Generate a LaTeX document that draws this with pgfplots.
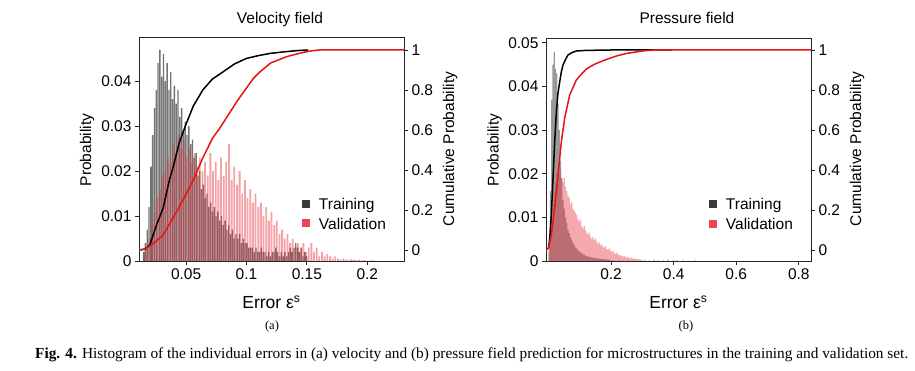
\documentclass[border=0pt]{standalone}
\usepackage{pgfplots}
\pgfplotsset{compat=1.18}
\usepackage{graphicx}
\usepackage{fontspec}
\setmainfont{Liberation Sans}
\newfontfamily\capfont{Liberation Serif}
\definecolor{valred}{RGB}{232,48,60}
\definecolor{cdfred}{RGB}{232,20,20}
\definecolor{legtrain}{RGB}{58,58,58}
\definecolor{legval}{RGB}{232,70,80}
\newcommand{\fs}{\fontsize{15.5}{18}\selectfont}
\pgfplotsset{
  base/.style={
    scale only axis, width=265pt, height=224pt, anchor=south west,
    scaled ticks=false,
    tick align=outside, major tick length=4pt,
    axis line style={line width=0.8pt, black!85},
    every tick/.style={line width=0.8pt, black!85},
    tick label style={font=\fs},
  },
  leg/.style={
    legend style={draw=none, fill=none, at={(0.94,0.125)}, anchor=south east,
      font=\fs, row sep=3pt, inner sep=0pt},
    legend cell align=left,
    legend image code/.code={\fill[##1] (0pt,-3pt) rectangle (8pt,5pt); \path (15pt,0pt);},
  },
  trainbar/.style={ybar, bar shift=0pt, fill=black, fill opacity=0.55, draw=none, forget plot},
  valbar/.style={ybar, bar shift=0pt, fill=valred, fill opacity=0.45, draw=none, forget plot},
}
\begin{document}
\begin{tikzpicture}
\useasboundingbox (0,0) rectangle (915pt,371pt);
% ---------------- (a) velocity ----------------
\begin{axis}[base, leg, at={(139pt,110pt)},
  xmin=0.011, xmax=0.2304, ymin=0, ymax=0.0498,
  xtick={0.05,0.1,0.15,0.2}, xticklabels={0.05,0.1,0.15,0.2},
  ytick={0,0.01,0.02,0.03,0.04}, yticklabels={0,0.01,0.02,0.03,0.04},
  xtick pos=left, ytick pos=left]
\addplot[trainbar, bar width=0.0011] coordinates {
(0.0148,0.002)(0.0163,0.004)(0.0178,0.007)(0.0193,0.012)(0.0208,0.021)(0.0223,0.028)(0.0238,0.034)(0.0253,0.038)(0.0268,0.044)(0.0283,0.047)(0.0298,0.041)(0.0313,0.046)(0.0328,0.040)(0.0343,0.044)(0.0358,0.038)(0.0373,0.042)(0.0388,0.036)(0.0403,0.039)(0.0418,0.035)(0.0433,0.038)(0.0448,0.032)(0.0463,0.034)(0.0478,0.029)(0.0493,0.031)(0.0508,0.028)(0.0523,0.030)(0.0538,0.026)(0.0553,0.027)(0.0568,0.023)(0.0583,0.024)(0.0598,0.019)(0.0613,0.020)(0.0628,0.016)(0.0643,0.017)(0.0658,0.014)(0.0673,0.015)(0.0688,0.012)(0.0703,0.013)(0.0718,0.011)(0.0733,0.012)(0.0748,0.010)(0.0763,0.011)(0.0778,0.009)(0.0793,0.010)(0.0808,0.008)(0.0823,0.009)(0.0838,0.007)(0.0853,0.008)(0.0868,0.006)(0.0883,0.007)(0.0898,0.005)(0.0913,0.006)(0.0928,0.005)(0.0943,0.006)(0.0958,0.004)(0.0973,0.005)(0.0988,0.004)(0.1003,0.004)(0.1018,0.003)(0.1033,0.003)(0.1048,0.003)(0.1063,0.002)(0.1078,0.003)(0.1093,0.002)(0.1108,0.002)(0.1123,0.003)(0.1138,0.002)(0.1153,0.002)(0.1168,0.001)(0.1183,0.002)(0.1198,0.001)(0.1213,0.002)(0.1228,0.002)(0.1243,0.003)(0.1258,0.002)(0.1273,0.001)(0.1288,0.002)(0.1303,0.001)(0.1318,0.002)(0.1333,0.001)(0.1348,0.002)(0.1363,0.003)(0.1378,0.002)(0.1393,0.003)(0.1408,0.004)(0.1423,0.003)(0.1438,0.002)(0.1453,0.003)(0.1468,0.001)(0.1483,0.002)(0.1498,0.001)};
\addplot[valbar, bar width=0.0015] coordinates {
(0.0151,0.001)(0.0173,0.003)(0.0195,0.005)(0.0217,0.008)(0.0239,0.011)(0.0261,0.014)(0.0283,0.016)(0.0305,0.019)(0.0327,0.020)(0.0349,0.023)(0.0371,0.022)(0.0393,0.026)(0.0415,0.024)(0.0437,0.028)(0.0459,0.025)(0.0481,0.027)(0.0503,0.023)(0.0525,0.025)(0.0547,0.022)(0.0569,0.024)(0.0591,0.021)(0.0613,0.023)(0.0635,0.020)(0.0657,0.022)(0.0679,0.019)(0.0701,0.024)(0.0723,0.020)(0.0745,0.022)(0.0767,0.018)(0.0789,0.023)(0.0811,0.019)(0.0833,0.022)(0.0855,0.026)(0.0877,0.018)(0.0899,0.021)(0.0921,0.017)(0.0943,0.020)(0.0965,0.015)(0.0987,0.018)(0.1009,0.014)(0.1031,0.016)(0.1053,0.013)(0.1075,0.015)(0.1097,0.012)(0.1119,0.013)(0.1141,0.010)(0.1163,0.012)(0.1185,0.009)(0.1207,0.011)(0.1229,0.008)(0.1251,0.009)(0.1273,0.006)(0.1295,0.007)(0.1317,0.005)(0.1339,0.006)(0.1361,0.004)(0.1383,0.005)(0.1405,0.003)(0.1427,0.004)(0.1449,0.003)(0.1471,0.004)(0.1493,0.002)(0.1515,0.003)(0.1537,0.004)(0.1559,0.002)(0.1581,0.003)(0.1603,0.001)(0.1625,0.002)(0.1647,0.001)(0.1669,0.0015)(0.1691,0.001)(0.1713,0.0005)(0.1735,0.001)(0.1757,0.0005)(0.1779,0.0003)(0.1801,0.0005)(0.1823,0.0003)(0.1845,0.0002)(0.1867,0.0004)(0.1889,0.0003)(0.1911,0.0002)(0.1933,0.0003)(0.1955,0.0001)(0.1977,0.0002)(0.1999,0.0001)(0.2021,0.0001)(0.2043,0.0002)(0.2065,0.0001)(0.2153,0.0001)(0.2219,0.0001)};
\addlegendimage{fill=legtrain, draw=none}\addlegendentry{Training}
\addlegendimage{fill=legval, draw=none}\addlegendentry{Validation}
\end{axis}
\begin{axis}[base, at={(139pt,110pt)},
  xmin=0.011, xmax=0.2304, ymin=-0.055, ymax=1.065,
  axis y line*=right, axis x line=none,
  ytick={0,0.2,0.4,0.6,0.8,1}, yticklabels={0,0.2,0.4,0.6,0.8,1}]
\addplot[black, line width=1.5pt] coordinates {
(0.012,0.0)(0.016,0.005)(0.02,0.025)(0.0252,0.12)(0.031,0.21)(0.0362,0.35)(0.0395,0.42)(0.0445,0.54)(0.05,0.63)(0.056,0.72)(0.0638,0.80)(0.0718,0.855)(0.078,0.88)(0.09,0.93)(0.1,0.958)(0.11,0.972)(0.1195,0.983)(0.13,0.99)(0.1417,0.997)(0.151,1.0)};
\addplot[cdfred, line width=1.5pt] coordinates {
(0.011,0.0)(0.016,0.005)(0.0224,0.03)(0.031,0.075)(0.0362,0.13)(0.042,0.19)(0.05,0.28)(0.056,0.35)(0.0638,0.46)(0.072,0.56)(0.078,0.61)(0.0831,0.658)(0.092,0.742)(0.1,0.81)(0.1057,0.858)(0.111,0.89)(0.12,0.935)(0.1334,0.967)(0.145,0.985)(0.1527,0.995)(0.16,1.0)(0.2304,1.0)};
\end{axis}
% ---------------- (b) pressure ----------------
\begin{axis}[base, leg, at={(546pt,110pt)}, height=223pt,
  xmin=-0.008, xmax=0.839, ymin=0, ymax=0.0511,
  xtick={0.2,0.4,0.6,0.8}, xticklabels={0.2,0.4,0.6,0.8},
  ytick={0,0.01,0.02,0.03,0.04,0.05}, yticklabels={0,0.01,0.02,0.03,0.04,0.05},
  xtick pos=left, ytick pos=left]
\addplot[trainbar, fill opacity=0.4, bar width=0.004] coordinates {
(0.002,0.004)(0.006,0.016)(0.010,0.037)(0.014,0.045)(0.018,0.048)(0.022,0.044)(0.026,0.043)(0.030,0.036)(0.034,0.030)(0.038,0.023)(0.042,0.019)(0.046,0.014)(0.050,0.012)(0.054,0.010)(0.058,0.0088)(0.062,0.0072)(0.066,0.0064)(0.070,0.0055)(0.074,0.0049)(0.078,0.0041)(0.082,0.0037)(0.086,0.0031)(0.090,0.0029)(0.094,0.0024)(0.098,0.0023)(0.102,0.0019)(0.106,0.0018)(0.110,0.0015)(0.114,0.0015)(0.118,0.0012)(0.122,0.0012)(0.126,0.0010)(0.130,0.0010)(0.134,0.0009)(0.138,0.0008)(0.142,0.0008)(0.146,0.0007)(0.150,0.0007)(0.154,0.0006)(0.158,0.0006)(0.162,0.0005)(0.166,0.0005)(0.170,0.0004)(0.174,0.0004)(0.178,0.0004)(0.182,0.0003)(0.186,0.0003)(0.190,0.0003)(0.194,0.0002)(0.198,0.0002)(0.206,0.0002)(0.214,0.0001)(0.226,0.0002)(0.238,0.0001)(0.254,0.0001)(0.274,0.0001)(0.302,0.0001)(0.338,0.0001)(0.382,0.0001)};
\addplot[valbar, fill opacity=0.42, bar width=0.004] coordinates {
(0.002,0.002)(0.006,0.005)(0.010,0.009)(0.014,0.013)(0.018,0.016)(0.022,0.018)(0.026,0.020)(0.030,0.021)(0.034,0.020)(0.038,0.021)(0.042,0.019)(0.046,0.018)(0.050,0.019)(0.054,0.017)(0.058,0.016)(0.062,0.015)(0.066,0.0145)(0.070,0.013)(0.074,0.0135)(0.078,0.012)(0.082,0.0115)(0.086,0.011)(0.090,0.0105)(0.094,0.0095)(0.098,0.009)(0.102,0.0095)(0.106,0.008)(0.110,0.0075)(0.114,0.008)(0.118,0.007)(0.122,0.0065)(0.126,0.006)(0.130,0.0065)(0.134,0.0055)(0.138,0.005)(0.142,0.0055)(0.146,0.0048)(0.150,0.0052)(0.154,0.0045)(0.158,0.004)(0.162,0.0042)(0.166,0.0036)(0.170,0.0038)(0.174,0.0033)(0.178,0.003)(0.182,0.0034)(0.186,0.0028)(0.190,0.0026)(0.194,0.0029)(0.198,0.0024)(0.202,0.0021)(0.206,0.0023)(0.210,0.0018)(0.214,0.0016)(0.218,0.0019)(0.222,0.0015)(0.226,0.0013)(0.230,0.0014)(0.234,0.0011)(0.238,0.001)(0.242,0.0012)(0.246,0.0009)(0.250,0.0008)(0.254,0.0009)(0.258,0.0007)(0.262,0.0006)(0.266,0.0008)(0.270,0.0005)(0.274,0.0006)(0.278,0.0004)(0.282,0.0005)(0.286,0.0003)(0.290,0.0004)(0.294,0.0003)(0.298,0.0002)(0.310,0.0003)(0.322,0.0002)(0.338,0.0003)(0.350,0.0002)(0.366,0.0002)(0.382,0.0003)(0.398,0.0002)(0.410,0.0002)(0.430,0.0002)(0.450,0.0001)(0.470,0.0002)(0.500,0.0001)(0.530,0.0001)};
\addlegendimage{fill=legtrain, draw=none}\addlegendentry{Training}
\addlegendimage{fill=legval, draw=none}\addlegendentry{Validation}
\end{axis}
\begin{axis}[base, at={(546pt,110pt)}, height=223pt,
  xmin=-0.008, xmax=0.839, ymin=-0.055, ymax=1.06,
  axis y line*=right, axis x line=none,
  ytick={0,0.2,0.4,0.6,0.8,1}, yticklabels={0,0.2,0.4,0.6,0.8,1}]
\addplot[black, line width=1.5pt] coordinates {
(0,0.01)(0.004,0.06)(0.009,0.175)(0.0144,0.36)(0.0197,0.54)(0.025,0.69)(0.030,0.78)(0.0357,0.84)(0.041,0.89)(0.0464,0.925)(0.055,0.955)(0.0624,0.975)(0.075,0.987)(0.089,0.995)(0.12,0.998)(0.2,1.0)(0.395,1.0)};
\addplot[cdfred, line width=1.5pt] coordinates {
(-0.008,0.0)(0.0,0.01)(0.009,0.075)(0.0197,0.21)(0.0304,0.375)(0.041,0.54)(0.0517,0.66)(0.0677,0.775)(0.089,0.85)(0.1008,0.872)(0.121,0.905)(0.146,0.928)(0.175,0.947)(0.217,0.97)(0.25,0.983)(0.3,0.995)(0.335,1.0)(0.839,1.0)};
\end{axis}
% ---------------- labels ----------------
\node[anchor=base, font=\fs] at (280pt,347.7pt) {Velocity field};
\node[anchor=base, font=\fs] at (687pt,347.7pt) {Pressure field};
\node[anchor=base, font=\fontsize{17.5}{20}\selectfont] at (271.5pt,62.7pt) {Error ε\textsuperscript{s}};
\node[anchor=base, font=\fontsize{17.5}{20}\selectfont] at (678.5pt,62.7pt) {Error ε\textsuperscript{s}};
\node[rotate=90, font=\fs] at (87pt,221pt) {Probability};
\node[rotate=90, font=\fs] at (494.5pt,221pt) {Probability};
\node[rotate=90, font=\fs] at (450pt,222pt) {Cumulative Probability};
\node[rotate=90, font=\fs] at (857pt,222pt) {Cumulative Probability};
\node[anchor=base, font=\capfont\fontsize{12.5}{14}\selectfont] at (272pt,41pt) {(a)};
\node[anchor=base, font=\capfont\fontsize{12.5}{14}\selectfont] at (686pt,41pt) {(b)};
\node[anchor=base west, inner sep=0pt] at (35pt,12.3pt) {\resizebox{873pt}{!}{\capfont\fontsize{13.5}{15}\selectfont\textbf{Fig. 4.} Histogram of the individual errors in (a) velocity and (b) pressure field prediction for microstructures in the training and validation set.}};
\end{tikzpicture}
\end{document}
